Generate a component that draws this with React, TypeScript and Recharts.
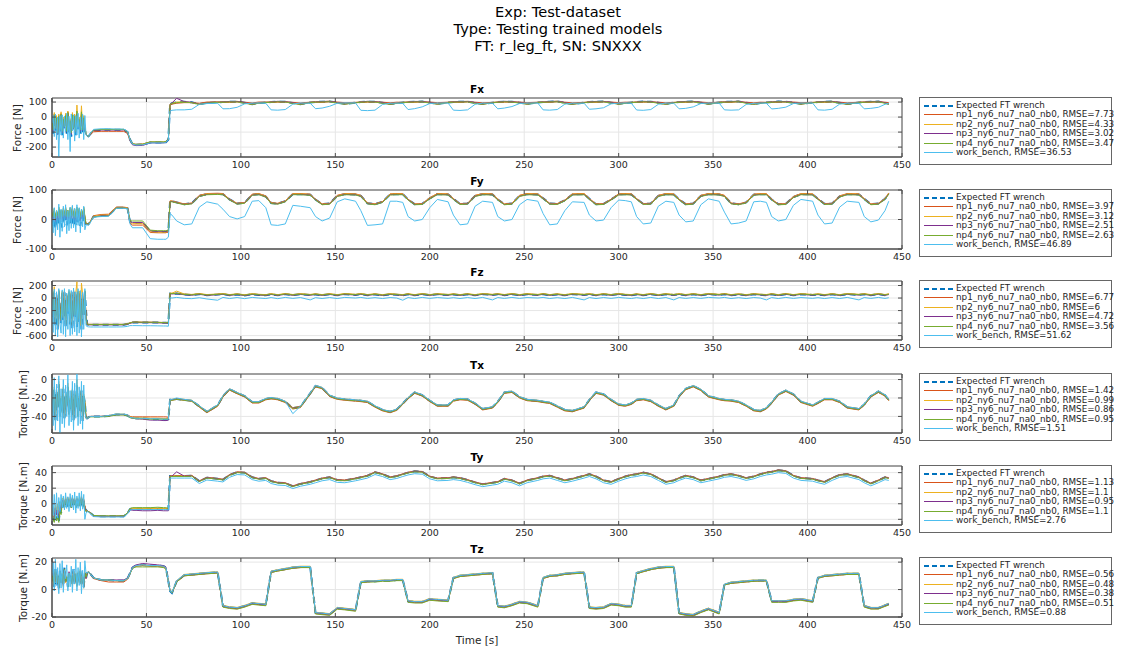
import { LineChart, Line, XAxis, YAxis, CartesianGrid, ReferenceArea } from "recharts"

// shared time base [s]
const time = [
  0, 0.6, 1.2, 1.8, 2.4, 3, 3.6, 4.2, 4.8, 5.4, 6, 6.6, 7.2, 7.8, 8.4, 9, 9.6, 10.2, 10.8, 11.4, 12, 12.6, 13.2, 13.8, 14.4, 15, 15.6, 16.2, 16.8, 17.4, 18,
  18.6, 19.3, 20.5, 22, 26, 30, 34, 38, 40, 41.3, 42.6, 44.5, 48, 52, 56, 59, 60.3, 61.6,
  62.5, 63.5, 66, 70, 74, 78, 82, 87.7,
  90.5, 94, 98, 102, 106, 109.5, 113.2,
  116, 119.5, 123.5, 127.5, 131.5, 136.7,
  139.5, 143, 147, 151, 155, 160.7,
  163.5, 167, 171, 175, 179, 182.5, 185.7,
  188.5, 192, 196, 200, 204, 209.7,
  212.5, 216, 220, 224, 228, 233.2,
  236, 239.5, 243.5, 247.5, 251.5, 257.2,
  260, 263.5, 267.5, 271.5, 275.5, 281.7,
  284.5, 288, 292, 296, 300, 303.5, 306.7,
  309.5, 313, 317, 321, 325, 329.2,
  332, 335.5, 339.5, 343.5, 347.5, 353.2,
  356, 359.5, 363.5, 367.5, 371.5, 375, 378.2,
  381, 384.5, 388.5, 392.5, 396.5, 402.7,
  405.5, 409, 413, 417, 421, 427.2,
  430, 433.5, 437.5, 441, 443,
]

// ---- Fx ----
const fxExpected = [
  -40, -110, 0, -90, -20, -130, -10, -100, 10, -120, -30, -80, -5, -110, 20, -100, -40, -130, 0, -90, -10, -120, 15, -80, -30, -110, 0, -100, -20, -90, -110,
  -125, -128, -110, -90, -85, -85, -85, -85, -100, -150, -180, -185, -183, -170, -170, -170, -168, -150,
  85, 92, 98, 102, 98, 86, 95, 99,
  100, 102, 103, 95, 86, 94, 98,
  100, 103, 102, 94, 86, 97,
  101, 102, 104, 96, 88, 96,
  100, 103, 102, 95, 87, 93, 97,
  100, 102, 103, 96, 88, 97,
  101, 102, 103, 95, 87, 96,
  100, 103, 102, 96, 88, 97,
  100, 102, 104, 95, 87, 96,
  101, 102, 103, 96, 88, 93, 97,
  100, 103, 102, 95, 87, 96,
  100, 102, 103, 96, 88, 97,
  101, 102, 104, 95, 87, 93, 97,
  100, 103, 102, 96, 88, 96,
  100, 102, 103, 95, 87, 97,
  100, 102, 103, 95, 88,
]
const fxNp1 = [
  -20, -80, 20, -70, 0, -100, 10, -80, 25, -90, -10, -60, 15, -90, 35, -80, -20, -100, 20, -70, 10, -90, 30, -60, -10, -80, 20, -80, 0, -70, -110,
  -125, -128, -115, -98, -95, -95, -95, -95, -110, -155, -178, -182, -180, -167, -167, -167, -165, -150,
  78, 86, 92, 96, 96, 92, 100, 101,
  97, 98, 101, 99, 94, 100, 99,
  97, 99, 100, 98, 94, 99,
  98, 98, 102, 100, 96, 98,
  97, 99, 100, 99, 95, 99, 98,
  97, 98, 101, 100, 96, 99,
  98, 98, 101, 99, 95, 98,
  97, 99, 100, 100, 96, 99,
  97, 98, 102, 99, 95, 98,
  98, 98, 101, 100, 96, 99, 98,
  97, 99, 100, 99, 95, 98,
  97, 98, 101, 100, 96, 99,
  98, 98, 102, 99, 95, 99, 98,
  97, 99, 100, 100, 96, 98,
  97, 98, 101, 99, 95, 99,
  97, 98, 101, 99, 96,
]
const fxNp2 = [
  -10, -90, 30, -60, 10, -110, 20, -70, 35, -100, 0, -50, 25, -80, 40, -70, -10, -110, 30, -60, 20, -80, 80, -50, 0, -70, 75, -70, 10, -60, -110,
  -125, -128, -110, -88, -82, -82, -82, -82, -97, -150, -178, -183, -180, -168, -168, -168, -166, -150,
  87, 92, 100, 101, 96, 86, 95, 100,
  102, 102, 105, 94, 84, 94, 99,
  102, 103, 104, 93, 84, 98,
  103, 102, 106, 95, 86, 97,
  102, 103, 104, 94, 85, 93, 98,
  102, 102, 105, 95, 86, 98,
  103, 102, 105, 94, 85, 97,
  102, 103, 104, 95, 86, 98,
  102, 102, 106, 94, 85, 97,
  103, 102, 105, 95, 86, 93, 98,
  102, 103, 104, 94, 85, 97,
  102, 102, 105, 95, 86, 98,
  103, 102, 106, 94, 85, 93, 98,
  102, 103, 104, 95, 86, 97,
  102, 102, 105, 94, 85, 98,
  102, 102, 105, 94, 86,
]
const fxNp3 = [
  -30, -95, 10, -80, -10, -115, 0, -90, 15, -105, -20, -70, 5, -100, 25, -90, -30, -115, 10, -80, 0, -100, 20, -70, -20, -95, 10, -90, -10, -80, -115,
  -125, -128, -110, -90, -86, -86, -86, -86, -100, -152, -185, -190, -189, -172, -172, -172, -170, -150,
  85, 94, 125, 103, 99, 85, 95, 99,
  100, 104, 104, 96, 85, 94, 98,
  100, 105, 103, 95, 85, 97,
  101, 104, 105, 97, 87, 96,
  100, 105, 103, 96, 86, 93, 97,
  100, 104, 104, 97, 87, 97,
  101, 104, 104, 96, 86, 96,
  100, 105, 103, 97, 87, 97,
  100, 104, 105, 96, 86, 96,
  101, 104, 104, 97, 87, 93, 97,
  100, 105, 103, 96, 86, 96,
  100, 104, 104, 97, 87, 97,
  101, 104, 105, 96, 86, 93, 97,
  100, 105, 103, 97, 87, 96,
  100, 104, 104, 96, 86, 97,
  100, 104, 104, 96, 87,
]
const fxNp4 = [
  -25, -85, 15, -75, -5, -105, 5, -85, 20, -95, -15, -65, 10, -95, 30, -85, -25, -105, 15, -75, 5, -95, 40, -65, -15, -85, 35, -85, -5, -75, -112,
  -125, -128, -108, -86, -83, -83, -83, -83, -98, -150, -178, -182, -181, -165, -165, -165, -163, -150,
  83, 91, 96, 99, 96, 84, 93, 98,
  98, 101, 101, 92, 84, 92, 97,
  98, 102, 100, 91, 84, 96,
  99, 101, 102, 93, 86, 95,
  98, 102, 100, 92, 85, 91, 96,
  98, 101, 101, 93, 86, 96,
  99, 101, 101, 92, 85, 95,
  98, 102, 100, 93, 86, 96,
  98, 101, 102, 92, 85, 95,
  99, 101, 101, 93, 86, 91, 96,
  98, 102, 100, 92, 85, 95,
  98, 101, 101, 93, 86, 96,
  99, 101, 102, 92, 85, 91, 96,
  98, 102, 100, 93, 86, 95,
  98, 101, 101, 92, 85, 96,
  98, 101, 101, 92, 86,
]
const fxWork = [
  -40, 10, -130, 20, -150, 0, -265, 10, -120, 15, -140, 5, -100, 25, -150, 5, -230, 20, -90, 15, -160, 10, -120, 25, -140, 0, -110, 20, -150, 10, -120,
  -125, -128, -105, -82, -78, -78, -80, -80, -95, -150, -180, -187, -185, -172, -172, -172, -170, -150,
  40, 45, 48, 48, 52, 85, 90, 92,
  55, 56, 65, 88, 93, 94, 92,
  48, 46, 50, 86, 94, 92,
  56, 60, 72, 92, 95, 94,
  45, 43, 46, 84, 92, 93, 91,
  50, 56, 68, 90, 94, 93,
  46, 44, 48, 85, 93, 92,
  55, 60, 70, 90, 94, 93,
  48, 46, 50, 86, 93, 92,
  52, 55, 62, 88, 93, 94, 92,
  47, 45, 50, 85, 94, 92,
  55, 58, 68, 90, 94, 93,
  48, 46, 48, 84, 92, 93, 92,
  54, 58, 66, 90, 94, 93,
  48, 46, 52, 86, 93, 92,
  55, 58, 65, 85, 92,
]

// ---- Fy ----
const fyExpected = [
  5, -25, 20, -30, 10, -20, 25, -15, 15, -28, 20, -10, 25, -20, 10, -18, 22, -12, 28, -15, 18, -20, 25, -10, 20, -22, 15, -8, 25, -12, -15,
  -15, -16, -5, 10, 13, 14, 40, 40, 38, -8, -12, -12, -12, -40, -42, -42, -42, -40,
  62, 62, 58, 52, 55, 80, 86, 87,
  86, 68, 54, 57, 84, 86, 78,
  56, 54, 62, 86, 86, 84,
  68, 52, 54, 80, 86, 85,
  80, 55, 52, 60, 85, 86, 86,
  68, 52, 53, 72, 86, 85,
  70, 53, 54, 80, 86, 85,
  68, 52, 54, 80, 86, 85,
  72, 54, 53, 65, 85, 86,
  70, 52, 53, 68, 85, 86, 85,
  70, 53, 54, 80, 86, 85,
  68, 52, 54, 80, 86, 85,
  80, 55, 52, 58, 84, 86, 86,
  68, 52, 53, 76, 86, 85,
  70, 53, 54, 78, 86, 85,
  70, 52, 54, 70, 88,
]
const fyNp1 = [
  20, 5, 30, 0, 25, 8, 35, 2, 28, 5, 32, 10, 36, 6, 26, 3, 33, 8, 38, 5, 30, 2, 36, 10, 32, 3, 28, 12, 36, 8, -15,
  -15, -16, -4, 13, 17, 18, 42, 42, 40, -12, -19, -19, -19, -44, -45, -45, -45, -42,
  63, 63, 59, 53, 56, 82, 88, 89,
  88, 69, 55, 58, 86, 88, 80,
  57, 55, 63, 88, 88, 86,
  69, 53, 55, 82, 88, 87,
  82, 56, 53, 61, 87, 88, 88,
  69, 53, 54, 74, 88, 87,
  71, 54, 55, 82, 88, 87,
  69, 53, 55, 82, 88, 87,
  73, 55, 54, 66, 87, 88,
  71, 53, 54, 69, 87, 88, 87,
  71, 54, 55, 82, 88, 87,
  69, 53, 55, 82, 88, 87,
  82, 56, 53, 59, 86, 88, 88,
  69, 53, 54, 78, 88, 87,
  71, 54, 55, 80, 88, 87,
  71, 53, 55, 71, 90,
]
const fyNp2 = [
  22, 2, 35, -2, 28, 5, 40, 0, 30, 2, 36, 8, 40, 4, 30, 0, 38, 6, 42, 3, 35, 0, 40, 8, 36, 0, 32, 10, 40, 5, -15,
  -15, -16, -5, 11, 15, 15, 41, 41, 39, -9, -14, -14, -14, -41, -43, -43, -43, -40,
  62, 62, 58, 52, 55, 81, 87, 88,
  87, 68, 54, 57, 85, 87, 79,
  56, 54, 62, 87, 87, 85,
  68, 52, 54, 81, 87, 86,
  81, 55, 52, 60, 86, 87, 87,
  68, 52, 53, 73, 87, 86,
  70, 53, 54, 81, 87, 86,
  68, 52, 54, 81, 87, 86,
  72, 54, 53, 65, 86, 87,
  70, 52, 53, 68, 86, 87, 86,
  70, 53, 54, 81, 87, 86,
  68, 52, 54, 81, 87, 86,
  81, 55, 52, 58, 85, 87, 87,
  68, 52, 53, 77, 87, 86,
  70, 53, 54, 79, 87, 86,
  70, 52, 54, 70, 89,
]
const fyNp3 = [
  15, -5, 28, -8, 20, 0, 32, -5, 24, -3, 30, 4, 34, -2, 22, -5, 30, 2, 35, -2, 26, -6, 33, 4, 28, -4, 24, 6, 33, 2, -15,
  -15, -16, -6, 9, 12, 13, 39, 39, 37, -7, -10, -10, -10, -38, -40, -40, -40, -38,
  61, 61, 57, 51, 54, 79, 85, 86,
  85, 67, 53, 56, 83, 85, 77,
  55, 53, 61, 85, 85, 83,
  67, 51, 53, 79, 85, 84,
  79, 54, 51, 59, 84, 85, 85,
  67, 51, 52, 71, 85, 84,
  69, 52, 53, 79, 85, 84,
  67, 51, 53, 79, 85, 84,
  71, 53, 52, 64, 84, 85,
  69, 51, 52, 67, 84, 85, 84,
  69, 52, 53, 79, 85, 84,
  67, 51, 53, 79, 85, 84,
  79, 54, 51, 57, 83, 85, 85,
  67, 51, 52, 75, 85, 84,
  69, 52, 53, 77, 85, 84,
  69, 51, 53, 69, 87,
]
const fyNp4 = [
  25, 8, 38, 5, 30, 12, 42, 6, 32, 10, 38, 14, 42, 10, 32, 8, 40, 12, 44, 10, 36, 6, 42, 14, 38, 8, 34, 16, 42, 12, -14,
  -15, -16, -6, 9, 11, 12, 39, 39, 37, -4, -5, -5, -5, -36, -38, -38, -38, -36,
  60, 60, 56, 50, 53, 78, 84, 85,
  84, 66, 52, 55, 82, 84, 76,
  54, 52, 60, 84, 84, 82,
  66, 50, 52, 78, 84, 83,
  78, 53, 50, 58, 83, 84, 84,
  66, 50, 51, 70, 84, 83,
  68, 51, 52, 78, 84, 83,
  66, 50, 52, 78, 84, 83,
  70, 52, 51, 63, 83, 84,
  68, 50, 51, 66, 83, 84, 83,
  68, 51, 52, 78, 84, 83,
  66, 50, 52, 78, 84, 83,
  78, 53, 50, 56, 82, 84, 84,
  66, 50, 51, 74, 84, 83,
  68, 51, 52, 76, 84, 83,
  68, 50, 52, 68, 86,
]
const fyWork = [
  10, -45, 40, -55, 30, -35, 52, -60, 35, -40, 45, -25, 50, -48, 30, -38, 42, -30, 48, -28, 38, -42, 50, -20, 40, -45, 35, -25, 45, -35, -18,
  -18, -20, -8, 8, 10, 11, 38, 38, 36, -15, -28, -28, -28, -65, -67, -67, -67, -60,
  20, 15, -5, -18, -15, 42, 60, 52,
  35, 10, 2, 10, 62, 64, 40,
  -18, -20, -15, 48, 45, 40,
  10, -5, 5, 60, 70, 62,
  30, -20, -18, -15, 62, 62, 58,
  10, -5, 0, 40, 68, 60,
  15, -18, -15, 45, 62, 58,
  10, -5, 0, 50, 68, 62,
  20, -18, -15, 30, 60, 58,
  15, -5, -2, 40, 66, 64, 60,
  10, -15, -12, 45, 62, 58,
  15, -8, -5, 50, 70, 62,
  25, -15, -12, -5, 60, 62, 58,
  10, -5, 0, 48, 68, 62,
  15, -15, -12, 42, 62, 58,
  10, -8, -2, 30, 62,
]

// ---- Fz ----
const fzExpected = [
  50, -300, 80, -450, 20, -500, 100, -200, -400, 60, -350, 90, -480, 0, -250, 70, -420, 40, -500, 100, -300, 30, -460, 80, -380, 50, -500, 20, -300, 90, -200,
  -420, -425, -425, -425, -425, -425, -425, -425, -415, -400, -390, -388, -390, -390, -392, -395, -395, -398,
  70, 68, 72, 55, 48, 62, 45, 55,
  62, 45, 58, 42, 60, 50, 44,
  60, 44, 62, 46, 60, 48,
  58, 45, 60, 44, 62, 50,
  62, 46, 58, 44, 60, 52, 45,
  60, 44, 62, 45, 60, 48,
  58, 45, 60, 44, 62, 50,
  60, 46, 62, 45, 60, 48,
  62, 45, 58, 44, 62, 50,
  60, 44, 60, 46, 62, 50, 45,
  58, 45, 62, 44, 60, 48,
  60, 46, 60, 45, 62, 50,
  62, 45, 58, 44, 60, 52, 46,
  60, 44, 62, 45, 60, 48,
  58, 45, 60, 44, 62, 50,
  60, 45, 62, 46, 58,
]
const fzNp1 = [
  80, -250, 100, -380, 60, -420, 110, -150, -330, 90, -300, 110, -400, 50, -200, 100, -350, 80, -420, 120, -260, 70, -400, 110, -320, 90, -420, 60, -260, 110, -300,
  -415, -420, -420, -420, -420, -420, -420, -420, -410, -395, -385, -383, -385, -385, -387, -390, -390, -393,
  75, 73, 77, 60, 53, 67, 50, 60,
  67, 50, 63, 47, 65, 55, 49,
  65, 49, 67, 51, 65, 53,
  63, 50, 65, 49, 67, 55,
  67, 51, 63, 49, 65, 57, 50,
  65, 49, 67, 50, 65, 53,
  63, 50, 65, 49, 67, 55,
  65, 51, 67, 50, 65, 53,
  67, 50, 63, 49, 67, 55,
  65, 49, 65, 51, 67, 55, 50,
  63, 50, 67, 49, 65, 53,
  65, 51, 65, 50, 67, 55,
  67, 50, 63, 49, 65, 57, 51,
  65, 49, 67, 50, 65, 53,
  63, 50, 65, 49, 67, 55,
  65, 50, 67, 51, 63,
]
const fzNp2 = [
  100, -280, 180, -400, 70, -450, 130, -180, -360, 110, -320, 130, -430, 60, -220, 120, -380, 100, -440, 130, -280, 80, 260, -340, 110, -440, 240, 70, -270, 120, -320,
  -420, -425, -425, -425, -425, -425, -425, -425, -415, -400, -390, -388, -390, -390, -392, -395, -395, -398,
  80, 78, 110, 65, 58, 72, 55, 65,
  72, 55, 68, 52, 70, 60, 54,
  70, 54, 72, 56, 70, 58,
  68, 55, 70, 54, 72, 60,
  72, 56, 68, 54, 70, 62, 55,
  70, 54, 72, 55, 70, 58,
  68, 55, 70, 54, 72, 60,
  70, 56, 72, 55, 70, 58,
  72, 55, 68, 54, 72, 60,
  70, 54, 70, 56, 72, 60, 55,
  68, 55, 72, 54, 70, 58,
  70, 56, 70, 55, 72, 60,
  72, 55, 68, 54, 70, 62, 56,
  70, 54, 72, 55, 70, 58,
  68, 55, 70, 54, 72, 60,
  70, 55, 72, 56, 68,
]
const fzNp3 = [
  70, -270, 90, -400, 40, -450, 100, -170, -360, 70, -320, 100, -430, 30, -220, 90, -380, 60, -440, 110, -280, 50, -420, 90, -340, 70, -440, 40, -270, 100, -320,
  -423, -428, -428, -428, -428, -428, -428, -428, -418, -403, -393, -391, -393, -393, -395, -398, -398, -401,
  67, 65, 69, 52, 45, 59, 42, 52,
  59, 42, 55, 39, 57, 47, 41,
  57, 41, 59, 43, 57, 45,
  55, 42, 57, 41, 59, 47,
  59, 43, 55, 41, 57, 49, 42,
  57, 41, 59, 42, 57, 45,
  55, 42, 57, 41, 59, 47,
  57, 43, 59, 42, 57, 45,
  59, 42, 55, 41, 59, 47,
  57, 41, 57, 43, 59, 47, 42,
  55, 42, 59, 41, 57, 45,
  57, 43, 57, 42, 59, 47,
  59, 42, 55, 41, 57, 49, 43,
  57, 41, 59, 42, 57, 45,
  55, 42, 57, 41, 59, 47,
  57, 42, 59, 43, 55,
]
const fzNp4 = [
  90, -260, 110, -390, 50, -440, 120, -160, -350, 80, -310, 120, -420, 40, -210, 100, -370, 70, -430, 120, -270, 60, -410, 100, -330, 80, -430, 50, -260, 110, -330,
  -417, -422, -422, -422, -422, -422, -422, -422, -412, -397, -387, -385, -387, -387, -389, -392, -392, -395,
  73, 71, 75, 58, 51, 65, 48, 58,
  65, 48, 61, 45, 63, 53, 47,
  63, 47, 65, 49, 63, 51,
  61, 48, 63, 47, 65, 53,
  65, 49, 61, 47, 63, 55, 48,
  63, 47, 65, 48, 63, 51,
  61, 48, 63, 47, 65, 53,
  63, 49, 65, 48, 63, 51,
  65, 48, 61, 47, 65, 53,
  63, 47, 63, 49, 65, 53, 48,
  61, 48, 65, 47, 63, 51,
  63, 49, 63, 48, 65, 53,
  65, 48, 61, 47, 63, 55, 49,
  63, 47, 65, 48, 63, 51,
  61, 48, 63, 47, 65, 53,
  63, 48, 65, 49, 61,
]
const fzWork = [
  120, -550, 140, -600, 100, -620, 150, -400, -560, 130, -580, 150, -620, 80, -500, 140, -600, 120, -580, 160, -540, 100, -600, 150, -560, 120, -620, 90, -500, 150, -440,
  -455, -460, -462, -462, -462, -462, -462, -460, -452, -440, -440, -440, -442, -442, -444, -446, -446, -450,
  5, 0, 10, -5, -10, 5, -15, -35,
  10, -8, 8, -10, 10, 0, -8,
  8, -10, 10, -6, 8, -30,
  6, -8, 8, -8, 10, 0,
  10, -6, 6, -8, 8, 0, -35,
  8, -8, 10, -6, 8, -5,
  6, -8, 8, -8, 10, -30,
  8, -6, 10, -6, 8, 0,
  10, -8, 6, -8, 10, -30,
  8, -8, 8, -6, 10, 0, -8,
  6, -8, 10, -8, 8, -30,
  8, -6, 8, -6, 10, 0,
  10, -8, 6, -8, 8, 0, -30,
  8, -8, 10, -6, 8, -5,
  6, -8, 8, -8, 10, -30,
  8, -6, 10, -6, 5,
]

// ---- Tx ----
const txExpected = [
  -20, -35, -10, -45, -15, -30, -5, -40, -20, -35, -10, -42, -18, -28, -8, -38, -22, -32, -12, -44, -16, -30, -6, -40, -20, -34, -12, -45, -18, -25, -40,
  -42, -41, -40, -40, -40, -39.5, -38, -38, -39, -41, -41.5, -42, -42, -43, -43, -43.5, -43.5, -43,
  -22, -22, -21, -22, -23, -29, -35, -28,
  -18, -10.5, -14.5, -18, -24.5, -24.5, -21,
  -20, -21, -24, -31, -29.5, -15,
  -7, -9, -17.5, -20.5, -21.5, -22.5,
  -23, -24, -29, -33, -35, -32.5, -26,
  -20, -14, -17, -23, -28, -28,
  -22.5, -21, -21.5, -26, -32, -30,
  -24, -14, -13, -19, -22, -23,
  -24, -25, -29, -33, -34, -30,
  -22, -14, -16, -22, -27, -28, -26,
  -22, -21, -23, -28, -32, -28,
  -18, -10, -7, -11, -18, -21,
  -22, -22.5, -24, -28, -33, -34, -31,
  -25, -16, -12, -16, -24, -28,
  -25, -21, -21, -24, -30, -32,
  -27, -18, -13, -17, -22,
]
const txNp1 = [
  -22, -32, -14, -40, -18, -28, -10, -36, -22, -32, -14, -38, -20, -28, -12, -34, -24, -30, -16, -40, -18, -28, -10, -36, -22, -32, -14, -40, -20, -26, -41,
  -42, -41, -40, -40, -40, -39.5, -38, -38, -39, -40, -40.5, -40.5, -40.5, -40.5, -40.5, -40.5, -40.5, -41,
  -22.5, -22.5, -21.5, -22.5, -23.5, -30, -36, -29,
  -19, -11.5, -15.5, -19, -25.5, -25.5, -22,
  -21, -22, -25, -32, -30.5, -16,
  -8, -10, -18.5, -21.5, -22.5, -23.5,
  -24, -25, -30, -34, -36, -33.5, -27,
  -21, -15, -18, -24, -29, -29,
  -23.5, -22, -22.5, -27, -33, -31,
  -25, -15, -14, -20, -23, -24,
  -25, -26, -30, -34, -35, -31,
  -23, -15, -17, -23, -28, -29, -27,
  -23, -22, -24, -29, -33, -29,
  -19, -11, -8, -12, -19, -22,
  -23, -23.5, -25, -29, -34, -35, -32,
  -26, -17, -13, -17, -25, -29,
  -26, -22, -22, -25, -31, -33,
  -28, -19, -14, -18, -23,
]
const txNp2 = [
  -18, -36, -8, -44, -12, -30, -2, -40, -18, -36, -8, -42, -16, -30, -4, -38, -20, -34, -10, -44, -14, -30, 0, -40, -18, -36, -10, -44, -16, -24, -41,
  -42, -41, -40, -40, -40, -39, -37.5, -37.5, -38.5, -40.5, -41, -41.5, -41.5, -42, -42, -42.5, -42.5, -42,
  -21.5, -21.5, -20.5, -21.5, -22.5, -28.5, -34.5, -27.5,
  -17.5, -10, -14, -17.5, -24, -24, -20.5,
  -19.5, -20.5, -23.5, -30.5, -29, -14.5,
  -6.5, -8.5, -17, -20, -21, -22,
  -22.5, -23.5, -28.5, -32.5, -34.5, -32, -25.5,
  -19.5, -13.5, -16.5, -22.5, -27.5, -27.5,
  -22, -20.5, -21, -25.5, -31.5, -29.5,
  -23.5, -13.5, -12.5, -18.5, -21.5, -22.5,
  -23.5, -24.5, -28.5, -32.5, -33.5, -29.5,
  -21.5, -13.5, -15.5, -21.5, -26.5, -27.5, -25.5,
  -21.5, -20.5, -22.5, -27.5, -31.5, -27.5,
  -17.5, -9.5, -6.5, -10.5, -17.5, -20.5,
  -21.5, -22, -23.5, -27.5, -32.5, -33.5, -30.5,
  -24.5, -15.5, -11.5, -15.5, -23.5, -27.5,
  -24.5, -20.5, -20.5, -23.5, -29.5, -31.5,
  -26.5, -17.5, -12.5, -16.5, -21.5,
]
const txNp3 = [
  -21, -34, -12, -43, -16, -30, -7, -39, -21, -34, -12, -41, -19, -29, -10, -37, -23, -32, -14, -43, -17, -30, -8, -39, -21, -34, -13, -43, -19, -26, -42,
  -42, -41, -40, -40, -40, -39.5, -38, -38, -39, -41, -42, -42.5, -43, -44, -44, -44.5, -44.5, -44,
  -22, -22, -21, -22, -23, -29, -35, -28,
  -18, -10.5, -14.5, -18, -24.5, -24.5, -21,
  -20, -21, -24, -31, -29.5, -15,
  -7, -9, -17.5, -20.5, -21.5, -22.5,
  -23, -24, -29, -33, -35, -32.5, -26,
  -20, -14, -17, -23, -28, -28,
  -22.5, -21, -21.5, -26, -32, -30,
  -24, -14, -13, -19, -22, -23,
  -24, -25, -29, -33, -34, -30,
  -22, -14, -16, -22, -27, -28, -26,
  -22, -21, -23, -28, -32, -28,
  -18, -10, -7, -11, -18, -21,
  -22, -22.5, -24, -28, -33, -34, -31,
  -25, -16, -12, -16, -24, -28,
  -25, -21, -21, -24, -30, -32,
  -27, -18, -13, -17, -22,
]
const txNp4 = [
  -20, -35, -11, -44, -15, -30, -6, -40, -20, -35, -11, -42, -18, -28, -9, -38, -22, -32, -12, -44, -16, -30, -7, -40, -20, -34, -12, -44, -18, -25, -42,
  -42, -41, -40.5, -40.5, -40.5, -40, -38.5, -38.5, -39.5, -41.5, -42, -42.5, -42.5, -43, -43, -43, -43, -43,
  -22.5, -22.5, -21.5, -22.5, -23.5, -29.5, -35.5, -28.5,
  -18.5, -11, -15, -18.5, -25, -25, -21.5,
  -20.5, -21.5, -24.5, -31.5, -30, -15.5,
  -7.5, -9.5, -18, -21, -22, -23,
  -23.5, -24.5, -29.5, -33.5, -35.5, -33, -26.5,
  -20.5, -14.5, -17.5, -23.5, -28.5, -28.5,
  -23, -21.5, -22, -26.5, -32.5, -30.5,
  -24.5, -14.5, -13.5, -19.5, -22.5, -23.5,
  -24.5, -25.5, -29.5, -33.5, -34.5, -30.5,
  -22.5, -14.5, -16.5, -22.5, -27.5, -28.5, -26.5,
  -22.5, -21.5, -23.5, -28.5, -32.5, -28.5,
  -18.5, -10.5, -7.5, -11.5, -18.5, -21.5,
  -22.5, -23, -24.5, -28.5, -33.5, -34.5, -31.5,
  -25.5, -16.5, -12.5, -16.5, -24.5, -28.5,
  -25.5, -21.5, -21.5, -24.5, -30.5, -32.5,
  -27.5, -18.5, -13.5, -17.5, -22.5,
]
const txWork = [
  -8, -50, 2, -55, -5, -45, 4, -58, -10, -48, 0, -52, -6, -40, 5, -50, -12, -46, -2, -55, -4, -42, 6, -50, -8, -48, -2, -54, -6, -36, -42,
  -42, -41, -40, -40, -40, -39, -37.5, -37.5, -38.5, -41, -41.5, -42, -42, -42.5, -42.5, -43, -43, -43,
  -21.5, -21.5, -20, -21.5, -22.5, -28.5, -34.5, -27.5,
  -17.5, -10, -14, -17.5, -24, -24, -20.5,
  -19.5, -20.5, -23.5, -37, -29, -14.5,
  -6.5, -8.5, -17, -20, -21, -22,
  -22.5, -23.5, -28.5, -32.5, -34.5, -32, -25.5,
  -19.5, -13.5, -16.5, -22.5, -27.5, -27.5,
  -22, -20.5, -21, -25.5, -31.5, -29.5,
  -23.5, -13.5, -12.5, -18.5, -21.5, -22.5,
  -23.5, -24.5, -28.5, -32.5, -33.5, -29.5,
  -21.5, -13.5, -15.5, -21.5, -26.5, -27.5, -25.5,
  -21.5, -20.5, -22.5, -27.5, -31.5, -27.5,
  -17.5, -9.5, -6.5, -10.5, -17.5, -20.5,
  -21.5, -22, -23.5, -27.5, -32.5, -33.5, -30.5,
  -24.5, -15.5, -11.5, -15.5, -23.5, -27.5,
  -24.5, -20.5, -20.5, -23.5, -29.5, -31.5,
  -26.5, -17.5, -12.5, -16.5, -21.5,
]

// ---- Ty ----
const tyExpected = [
  -5, -18, -22, -10, -20, -15, -22, -8, -12, -2, 5, -6, 4, -4, 6, -3, 5, -5, 7, -2, 4, -6, 6, -3, 5, -4, 8, -5, 3, -6, -8,
  -9.5, -10, -12, -15.5, -16, -16, -16, -16, -12, -7, -6.5, -6.5, -6.5, -6.5, -6.5, -6.5, -6.5, -7,
  35.5, 35.5, 35.5, 35.5, 36, 29, 33.5, 32,
  31, 37, 40.5, 40, 34, 32, 33,
  29, 27, 26.5, 22.5, 25.5, 28,
  30, 32.5, 34, 30.5, 30, 32.5,
  34, 36, 40.5, 38, 34, 35.5, 38,
  40, 41.6, 41, 35, 32.5, 33,
  34, 33, 30.5, 27.5, 25, 27,
  28, 32, 30, 26, 30, 33,
  35, 36, 33, 30, 32, 36,
  38, 35, 30, 28, 32, 35, 37,
  38, 40, 38, 33, 28, 30,
  33, 36, 34, 30, 32, 35,
  37, 38, 36, 33, 35, 38, 40,
  41, 43, 42, 36, 33, 32,
  30, 28, 33, 37, 38, 34,
  30, 26, 30, 34, 33,
]
const tyNp1 = [
  0, -12, -8, -4, -10, -2, -8, 2, -3, 4, 6, 0, 7, 1, 8, 0, 6, -1, 8, 1, 6, -2, 7, 0, 6, -1, 9, -1, 5, -3, -9,
  -9.5, -10, -12, -15.5, -16.5, -16.5, -16, -16, -12, -7.5, -7, -7, -7, -6.5, -6.5, -6.5, -6.5, -7,
  36, 36, 36, 36, 36.5, 29.5, 34, 32.5,
  31.5, 37.5, 41, 40.5, 34.5, 32.5, 33.5,
  29.5, 27.5, 27, 23, 26, 28.5,
  30.5, 33, 34.5, 31, 30.5, 33,
  34.5, 36.5, 41, 38.5, 34.5, 36, 38.5,
  40.5, 42, 41.5, 35.5, 33, 33.5,
  34.5, 33.5, 31, 28, 25.5, 27.5,
  28.5, 32.5, 30.5, 26.5, 30.5, 33.5,
  35.5, 36.5, 33.5, 30.5, 32.5, 36.5,
  38.5, 35.5, 30.5, 28.5, 32.5, 35.5, 37.5,
  38.5, 40.5, 38.5, 33.5, 28.5, 30.5,
  33.5, 36.5, 34.5, 30.5, 32.5, 35.5,
  37.5, 38.5, 36.5, 33.5, 35.5, 38.5, 40.5,
  41.5, 43.5, 42.5, 36.5, 33.5, 32.5,
  30.5, 28.5, 33.5, 37.5, 38.5, 34.5,
  30.5, 26.5, 30.5, 34.5, 33.5,
]
const tyNp2 = [
  -2, -10, -12, -2, -8, 0, -10, 3, -5, 6, 8, -2, 9, 2, 7, -1, 8, -3, 9, 0, 7, -3, 8, 1, 7, -2, 10, -2, 6, -4, -9,
  -9.5, -10, -12, -15.5, -16, -16, -16, -16, -12, -7, -6, -6, -6, -6, -6, -6, -6, -7,
  35.5, 35.5, 35.5, 35.5, 36, 29, 33.5, 32,
  31, 37, 40.5, 40, 34, 32, 33,
  29, 27, 26.5, 22.5, 25.5, 28,
  30, 32.5, 34, 30.5, 30, 32.5,
  34, 36, 40.5, 38, 34, 35.5, 38,
  40, 41.6, 41, 35, 32.5, 33,
  34, 33, 30.5, 27.5, 25, 27,
  28, 32, 30, 26, 30, 33,
  35, 36, 33, 30, 32, 36,
  38, 35, 30, 28, 32, 35, 37,
  38, 40, 38, 33, 28, 30,
  33, 36, 34, 30, 32, 35,
  37, 38, 36, 33, 35, 38, 40,
  41, 43, 42, 36, 33, 32,
  30, 28, 33, 37, 38, 34,
  30, 26, 30, 34, 33,
]
const tyNp3 = [
  -4, -16, -18, -6, -14, -8, -16, -2, -8, 2, 5, -4, 6, -2, 6, -2, 5, -4, 7, -1, 5, -4, 6, -2, 5, -3, 8, -4, 4, -5, -10,
  -9.5, -10, -12, -15.5, -16, -16, -16, -16, -12, -7.5, -8.5, -8.5, -9, -9, -8.5, -9, -9, -9,
  35.5, 35.5, 41, 35.5, 36, 29, 33.5, 32,
  31, 37, 40.5, 40, 34, 32, 33,
  29, 27, 26.5, 22.5, 25.5, 28,
  30, 32.5, 34, 30.5, 30, 32.5,
  34, 36, 40.5, 38, 34, 35.5, 38,
  40, 41.6, 41, 35, 32.5, 33,
  34, 33, 30.5, 27.5, 25, 27,
  28, 32, 30, 26, 30, 33,
  35, 36, 33, 30, 32, 36,
  38, 35, 30, 28, 32, 35, 37,
  38, 40, 38, 33, 28, 30,
  33, 36, 34, 30, 32, 35,
  37, 38, 36, 33, 35, 38, 40,
  41, 43, 42, 36, 33, 32,
  30, 28, 33, 37, 38, 34,
  30, 26, 30, 34, 33,
]
const tyNp4 = [
  -6, -20, -24, -12, -22, -18, -24, -10, -14, 0, 4, -6, 5, -3, 6, -3, 4, -5, 6, -2, 4, -5, 5, -3, 4, -4, 7, -5, 3, -7, -10,
  -9.5, -10, -12, -15, -15.5, -15.5, -15.5, -15.5, -11.5, -6, -5, -5, -5, -5, -4.5, -5, -5, -6,
  35, 35, 35, 35, 35.5, 28.5, 33, 31.5,
  30.5, 36.5, 40, 39.5, 33.5, 31.5, 32.5,
  28.5, 26.5, 26, 22, 25, 27.5,
  29.5, 32, 33.5, 30, 29.5, 32,
  33.5, 35.5, 40, 37.5, 33.5, 35, 37.5,
  39.5, 41, 40.5, 34.5, 32, 32.5,
  33.5, 32.5, 30, 27, 24.5, 26.5,
  27.5, 31.5, 29.5, 25.5, 29.5, 32.5,
  34.5, 35.5, 32.5, 29.5, 31.5, 35.5,
  37.5, 34.5, 29.5, 27.5, 31.5, 34.5, 36.5,
  37.5, 39.5, 37.5, 32.5, 27.5, 29.5,
  32.5, 35.5, 33.5, 29.5, 31.5, 34.5,
  36.5, 37.5, 35.5, 32.5, 34.5, 37.5, 39.5,
  40.5, 42.5, 41.5, 35.5, 32.5, 31.5,
  29.5, 27.5, 32.5, 36.5, 37.5, 33.5,
  29.5, 25.5, 29.5, 33.5, 32.5,
]
const tyWork = [
  10, -15, 12, -20, 14, -18, 8, -10, 12, -5, 10, -8, 14, -6, 9, -10, 13, -4, 11, -8, 15, -12, 10, -6, 14, -9, 16, -7, 12, -20, -12,
  -10, -11, -13, -16.5, -17, -17, -17, -17, -13, -8, -7.5, -7.5, -7.5, -7.5, -7.5, -7.5, -7.5, -8,
  33, 33, 33, 33, 33, 26, 30.5, 29,
  28, 34, 37.5, 37, 31, 29, 30,
  26, 24, 23.5, 19.5, 22.5, 25,
  27, 29.5, 31, 27.5, 27, 29.5,
  31, 33, 37.5, 35, 31, 32.5, 35,
  37, 38.6, 38, 32, 29.5, 30,
  31, 30, 27.5, 24.5, 22, 24,
  25, 29, 27, 23, 27, 30,
  32, 33, 30, 27, 29, 33,
  35, 32, 27, 25, 29, 32, 34,
  35, 37, 35, 30, 25, 27,
  30, 33, 31, 27, 29, 32,
  34, 35, 33, 30, 32, 35, 37,
  38, 40, 39, 33, 30, 29,
  27, 25, 30, 34, 35, 31,
  27, 23, 27, 31, 30,
]

// ---- Tz ----
const tzExpected = [
  6, 12, 2, 15, 4, 10, 0, 14, 5, 11, 3, 16, 6, 9, 2, 13, 7, 10, 4, 15, 5, 11, 3, 12, 6, 14, 4, 9, 2, 12, 8,
  12, 13, 11, 8.5, 7, 7, 6.5, 6.5, 8, 12, 16, 17.5, 18, 17.5, 17.5, 17, 16, 6,
  -1, -2.5, 6, 10.5, 11, 11.5, 12, 12.5,
  -12, -13, -13.5, -12, -10, -10.5, -11,
  13, 14, 15, 16, 16.5, 16.5,
  -17, -17.5, -18, -13.5, -14, -15,
  5.5, 6, 6, 6.5, 6.5, 7, 7,
  -8.5, -9, -9, -7, -7.5, -8,
  8.5, 10, 10.5, 11, 11.5, 12,
  -12, -12.5, -11, -9, -9.5, -12,
  8.6, 10, 10.5, 11.5, 12, 12.5,
  -13, -13.5, -13, -10.5, -11, -12, -12,
  12, 13.5, 15, 16, 16.5, 16.5,
  -17, -18, -18.5, -16, -14, -17,
  3.7, 5, 5.5, 6, 6.5, 6.6, 6.6,
  -8.5, -8.5, -8.5, -7.5, -7, -8.5,
  8.6, 10, 10.5, 11, 11.5, 11.5,
  -12, -13.4, -13.4, -11.5, -10.5,
]
const tzNp1 = [
  7, 11, 4, 13, 5, 9, 2, 12, 6, 10, 4, 14, 7, 8, 3, 12, 6, 9, 5, 13, 6, 10, 4, 11, 7, 12, 5, 8, 3, 11, 9,
  12, 13, 11, 8, 6.5, 5.5, 5.5, 5.5, 7.5, 11.5, 15.5, 17, 17.5, 17, 17, 16.5, 15.5, 6,
  -1, -2.5, 5.5, 10, 10.5, 11, 11.5, 12,
  -12.5, -13.5, -14, -12.5, -10.5, -11, -11.5,
  12.5, 13.5, 14.5, 15.5, 16, 16.5,
  -17.5, -18, -18.5, -14, -14.5, -15.5,
  5, 5.5, 6, 6.5, 6.5, 7, 7,
  -9, -9.5, -9.5, -7.5, -8, -8.5,
  8, 9.5, 10, 10.5, 11, 11.5,
  -12.5, -13, -11.5, -9.5, -10, -12.5,
  8, 9.5, 10, 11, 11.5, 12,
  -13.5, -14, -13.5, -11, -11.5, -12.5, -12.5,
  11.5, 13, 14.5, 15.5, 16, 16.5,
  -17.5, -18.5, -19, -16.5, -14.5, -17.5,
  3.5, 4.5, 5, 5.5, 6, 6.3, 6.3,
  -9, -9, -9, -8, -7.5, -9,
  8.2, 9.5, 10, 10.5, 11, 11,
  -12.5, -14, -14, -12, -11,
]
const tzNp2 = [
  5, 13, 3, 14, 4, 11, 1, 13, 6, 12, 2, 15, 5, 10, 3, 12, 8, 9, 3, 14, 4, 12, 2, 13, 5, 15, 3, 10, 1, 13, 8,
  12, 13, 11, 8.5, 7, 7, 6.5, 6.5, 8, 12, 16, 17.5, 18, 17.5, 17.5, 17, 16, 6,
  -1, -2, 6.5, 11, 11.5, 12, 12.5, 13,
  -11.5, -12.5, -13, -11.5, -9.5, -10, -10.5,
  13.5, 14.5, 15.5, 16.5, 17, 17,
  -16.5, -17, -17.5, -13, -13.5, -14.5,
  6, 6.5, 6.5, 7, 7, 7.5, 7.5,
  -8, -8.5, -8.5, -6.5, -7, -7.5,
  9, 10.5, 11, 11.5, 12, 12.5,
  -11.5, -12, -10.5, -8.5, -9, -11.5,
  9, 10.5, 11, 12, 12.5, 13,
  -12.5, -13, -12.5, -10, -10.5, -11.5, -11.5,
  12.5, 14, 15.5, 16.5, 17, 17,
  -16.5, -17.5, -18, -15.5, -13.5, -16.5,
  4, 5.5, 6, 6.5, 7, 7, 7,
  -8, -8, -8, -7, -6.5, -8,
  9, 10.5, 11, 11.5, 12, 12,
  -11.5, -13, -13, -11, -10,
]
const tzNp3 = [
  6, 12, 3, 14, 5, 10, 1, 13, 5, 11, 3, 15, 6, 9, 3, 13, 7, 10, 4, 14, 5, 11, 3, 12, 6, 13, 4, 9, 2, 12, 8,
  12, 13, 11, 8.5, 7, 7, 7, 7, 8.5, 12, 16.5, 18, 19, 18.5, 18, 17.5, 16.5, 6,
  -1, -2.5, 6, 10.5, 11, 11.5, 12, 12.5,
  -12, -13, -13.5, -12, -10, -10.5, -11,
  13, 14, 15, 16, 16.5, 16.5,
  -17, -17.5, -18, -13.5, -14, -15,
  5.5, 6, 6, 6.5, 6.5, 7, 7,
  -8.5, -9, -9, -7, -7.5, -8,
  8.5, 10, 10.5, 11, 11.5, 12,
  -12, -12.5, -11, -9, -9.5, -12,
  8.6, 10, 10.5, 11.5, 12, 12.5,
  -13, -13.5, -13, -10.5, -11, -12, -12,
  12, 13.5, 15, 16, 16.5, 16.5,
  -17, -18, -18.5, -16, -14, -17,
  3.7, 5, 5.5, 6, 6.5, 6.6, 6.6,
  -8.5, -8.5, -8.5, -7.5, -7, -8.5,
  8.6, 10, 10.5, 11, 11.5, 11.5,
  -12, -13.4, -13.4, -11.5, -10.5,
]
const tzNp4 = [
  6, 11, 3, 14, 4, 10, 1, 13, 5, 11, 4, 15, 6, 9, 2, 12, 7, 10, 4, 14, 5, 11, 3, 12, 6, 13, 4, 9, 3, 12, 9,
  12, 13, 11, 8.5, 7, 7, 6.5, 6.5, 8, 11.5, 15.5, 16.5, 16.5, 16.5, 16.5, 16, 15, 6,
  -1, -2.5, 5.5, 10, 10.5, 11, 11.5, 12,
  -12.8, -13.8, -14.3, -12.8, -10.8, -11.3, -11.8,
  12.5, 13.5, 14.5, 15.5, 16, 16,
  -17.8, -18.3, -18.8, -14.3, -14.8, -15.8,
  5, 5.5, 5.5, 6, 6, 6.5, 6.5,
  -9.3, -9.8, -9.8, -7.8, -8.3, -8.8,
  8, 9.5, 10, 10.5, 11, 11.5,
  -12.8, -13.3, -11.8, -9.8, -10.3, -12.8,
  8.2, 9.6, 10, 11, 11.5, 12,
  -13.8, -14.3, -13.8, -11.3, -11.8, -12.8, -12.8,
  11.6, 13, 14.5, 15.5, 16, 16,
  -17.8, -18.8, -19.3, -16.8, -14.8, -17.8,
  3.3, 4.6, 5, 5.6, 6, 6.2, 6.2,
  -9.3, -9.3, -9.3, -8.3, -7.8, -9.3,
  8.2, 9.6, 10, 10.6, 11, 11,
  -12.8, -14.2, -14.2, -12.3, -11.3,
]
const tzWork = [
  10, 20, -1, 22, 3, 16, -3, 19, 1, 21, -2, 14, 8, 18, -1, 12, 2, 17, -2, 15, 4, 22, -1, 16, 3, 20, -3, 14, 1, 21, 12,
  12, 13, 11, 8.5, 7, 7, 6.5, 6.5, 8, 12, 16, 17.5, 18, 17.5, 17.5, 17, 16, 6,
  -1, -2, 6.5, 10.8, 11.3, 11.8, 12.3, 12.8,
  -11.8, -12.8, -13.2, -11.8, -9.8, -10.2, -10.8,
  13.3, 14.3, 15.3, 16.3, 16.8, 16.8,
  -16.8, -17.2, -17.8, -13.2, -13.8, -14.8,
  5.8, 6.3, 6.3, 6.8, 6.8, 7.3, 7.3,
  -8.2, -8.8, -8.8, -6.8, -7.2, -7.8,
  8.8, 10.3, 10.8, 11.3, 11.8, 12.3,
  -11.8, -12.2, -10.8, -8.8, -9.2, -11.8,
  8.9, 10.3, 10.8, 11.8, 12.3, 12.8,
  -12.8, -13.2, -12.8, -10.2, -10.8, -11.8, -11.8,
  12.3, 13.8, 15.3, 16.3, 16.8, 16.8,
  -16.8, -17.8, -18.2, -15.8, -13.8, -16.8,
  4, 5.3, 5.8, 6.3, 6.8, 6.9, 6.9,
  -8.2, -8.2, -8.2, -7.2, -6.8, -8.2,
  8.9, 10.3, 10.8, 11.3, 11.8, 11.8,
  -11.8, -13.2, -13.2, -11.2, -10.2,
]

const xTicks = [0, 50, 100, 150, 200, 250, 300, 350, 400, 450]
const seriesNames = ["np1_ny6_nu7_na0_nb0", "np2_ny6_nu7_na0_nb0", "np3_ny6_nu7_na0_nb0", "np4_ny6_nu7_na0_nb0", "work_bench"]
const fxRmse = ["7.73", "4.33", "3.02", "3.47", "36.53"]
const fyRmse = ["3.97", "3.12", "2.51", "2.63", "46.89"]
const fzRmse = ["6.77", "6", "4.72", "3.56", "51.62"]
const txRmse = ["1.42", "0.99", "0.86", "0.95", "1.51"]
const tyRmse = ["1.13", "1.1", "0.95", "1.1", "2.76"]
const tzRmse = ["0.56", "0.48", "0.38", "0.51", "0.88"]

const COLORS = ["#0072BD", "#D95319", "#EDB120", "#7E2F8E", "#77AC30", "#4DBEEE"]
const KEYS = ["e", "n1", "n2", "n3", "n4", "wb"]
const FONT = '"DejaVu Sans", Verdana, sans-serif'
const AXIS = "#4d4d4d"
const TXT = "#262626"
const PL = 52
const PW = 850
const PH = 59
const MT = 10

const panels = [
  { title: "Fx", yLabel: "Force [N]", labelX: 17, top: 98, domain: [-266, 127], ticks: [-200, -100, 0, 100], series: [fxExpected, fxNp1, fxNp2, fxNp3, fxNp4, fxWork], rmse: fxRmse },
  { title: "Fy", yLabel: "Force [N]", labelX: 17, top: 190, domain: [-100, 100], ticks: [-100, 0, 100], series: [fyExpected, fyNp1, fyNp2, fyNp3, fyNp4, fyWork], rmse: fyRmse },
  { title: "Fz", yLabel: "Force [N]", labelX: 17, top: 281, domain: [-670, 272], ticks: [-600, -400, -200, 0, 200], series: [fzExpected, fzNp1, fzNp2, fzNp3, fzNp4, fzWork], rmse: fzRmse },
  { title: "Tx", yLabel: "Torque [N.m]", labelX: 23, top: 374, domain: [-58, 6], ticks: [-40, -20, 0], series: [txExpected, txNp1, txNp2, txNp3, txNp4, txWork], rmse: txRmse },
  { title: "Ty", yLabel: "Torque [N.m]", labelX: 23, top: 466, domain: [-27.3, 48.5], ticks: [-20, 0, 20, 40], series: [tyExpected, tyNp1, tyNp2, tyNp3, tyNp4, tyWork], rmse: tyRmse },
  { title: "Tz", yLabel: "Torque [N.m]", labelX: 23, top: 558, domain: [-20, 23], ticks: [-20, 0, 20], series: [tzExpected, tzNp1, tzNp2, tzNp3, tzNp4, tzWork], rmse: tzRmse },
]

function XTick(props: any) {
  const { x, y, payload } = props
  const bottom = MT + PH
  return (
    <g>
      <line x1={x} x2={x} y1={bottom} y2={bottom - 4} stroke={AXIS} />
      <line x1={x} x2={x} y1={MT} y2={MT + 4} stroke={AXIS} />
      <text x={x} y={y} dy="0.71em" textAnchor="middle" fontSize={9.5} fill={TXT} fontFamily={FONT}>{payload.value}</text>
    </g>
  )
}

function YTick(props: any) {
  const { x, y, payload } = props
  return (
    <g>
      <line x1={PL} x2={PL + 4} y1={y} y2={y} stroke={AXIS} />
      <line x1={PL + PW - 4} x2={PL + PW} y1={y} y2={y} stroke={AXIS} />
      <text x={x} y={y} dy="0.35em" textAnchor="end" fontSize={9.5} fill={TXT} fontFamily={FONT}>{payload.value}</text>
    </g>
  )
}

function Legend({ top, rmse }: { top: number; rmse: string[] }) {
  const labels = ["Expected FT wrench", ...seriesNames.map((n, i) => `${n}, RMSE=${rmse[i]}`)]
  return (
    <div style={{ position: "absolute", left: 919, top, width: 193, height: 68, border: "1px solid #666", background: "#fff", boxSizing: "border-box" }}>
      {labels.map((l, i) => (
        <div key={l} style={{ position: "absolute", left: 0, top: Math.round(3 + i * 9.4), height: 9, display: "flex", alignItems: "center" }}>
          <svg width={36} height={9} style={{ display: "block" }}>
            <line x1={4} x2={33} y1={i === 0 ? 5 : 4.5} y2={i === 0 ? 5 : 4.5} stroke={COLORS[i]} strokeWidth={i === 0 ? 2 : 1} strokeDasharray={i === 0 ? "5 3" : undefined} />
          </svg>
          <span style={{ fontSize: 8.8, fontFamily: FONT, color: TXT, whiteSpace: "nowrap", lineHeight: "9px" }}>{l}</span>
        </div>
      ))}
    </div>
  )
}

function Panel({ p }: { p: (typeof panels)[number] }) {
  const data = time.map((t, i) => {
    const row: Record<string, number> = { t }
    KEYS.forEach((k, j) => { row[k] = p.series[j][i] })
    return row
  })
  return (
    <>
      <div style={{ position: "absolute", left: 0, width: 954, top: p.top - 15, textAlign: "center", fontFamily: FONT, fontWeight: "bold", fontSize: 10.5, color: "#000", lineHeight: "12px" }}>{p.title}</div>
      <div style={{ position: "absolute", left: p.labelX, top: p.top + PH / 2, transform: "translate(-50%, -50%) rotate(-90deg)", fontFamily: FONT, fontSize: 10.5, color: TXT, whiteSpace: "nowrap" }}>{p.yLabel}</div>
      <div style={{ position: "absolute", left: 0, top: p.top - MT }}>
        <LineChart width={PL + PW + 10} height={MT + PH + 20} data={data} margin={{ top: MT, right: 10, bottom: 0, left: 0 }}>
          <CartesianGrid stroke="#e6e6e6" />
          <XAxis dataKey="t" type="number" domain={[0, 450]} ticks={xTicks} allowDataOverflow height={20} tickSize={0} tickMargin={4} tickLine={false} stroke={AXIS} tick={<XTick />} interval={0} />
          <YAxis type="number" domain={p.domain} ticks={p.ticks} allowDataOverflow width={PL} tickSize={0} tickMargin={5} tickLine={false} stroke={AXIS} tick={<YTick />} interval={0} />
          {KEYS.map((k, j) => (
            <Line key={k} dataKey={k} type="linear" stroke={COLORS[j]} strokeWidth={j === 0 ? 2 : 1} strokeDasharray={j === 0 ? "6 4" : undefined} dot={false} isAnimationActive={false} />
          ))}
          <ReferenceArea x1={0} x2={450} y1={p.domain[0]} y2={p.domain[1]} fill="none" stroke={AXIS} strokeWidth={1} />
        </LineChart>
      </div>
      <Legend top={p.top - 1} rmse={p.rmse} />
    </>
  )
}

export default function App() {
  return (
    <div style={{ position: "absolute", left: 0, top: 0, width: 1121, height: 651, background: "#fff", overflow: "hidden" }}>
      <div style={{ position: "absolute", left: 0, top: 3, width: 1116, textAlign: "center", fontFamily: FONT, fontSize: 14.6, lineHeight: "17px", color: "#000" }}>
        <div>Exp: Test-dataset</div>
        <div>Type: Testing trained models</div>
        <div>FT: r_leg_ft, SN: SNXXX</div>
      </div>
      {panels.map((p) => <Panel key={p.title} p={p} />)}
      <div style={{ position: "absolute", left: PL, width: PW, top: 634, textAlign: "center", fontFamily: FONT, fontSize: 10.5, color: TXT }}>Time [s]</div>
    </div>
  )
}
